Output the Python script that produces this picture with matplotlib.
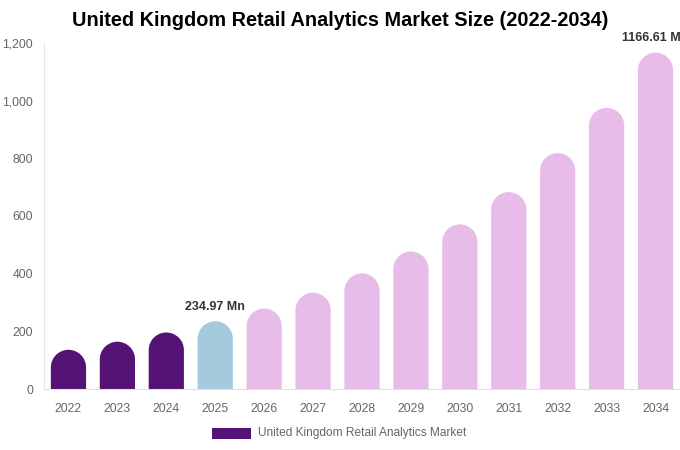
import matplotlib
matplotlib.use("Agg")
import matplotlib.pyplot as plt
from matplotlib.patches import Rectangle, PathPatch
from matplotlib.path import Path
from matplotlib.ticker import FuncFormatter

years = ["2022", "2023", "2024", "2025", "2026", "2027", "2028", "2029", "2030",
         "2031", "2032", "2033", "2034"]
values = [136, 164, 196, 234.97, 279, 334, 401, 477, 571, 683, 818, 975, 1166.61]
colors = ["#541275", "#541275", "#541275", "#A4CADE"] + ["#E8BCE8"] * 9
labels = {3: "234.97 Mn", 12: "1166.61 Mn"}
title = "United Kingdom Retail Analytics Market Size (2022-2034)"
legend_label = "United Kingdom Retail Analytics Market"

plt.rcParams["font.family"] = ["Liberation Sans", "DejaVu Sans"]
W, H = 680, 450
fig = plt.figure(figsize=(W / 100, H / 100), dpi=100)
ax = fig.add_axes([44 / W, (H - 389) / H, (680 - 44) / W, (389 - 43) / H])
ax.set_xlim(-0.5, len(years) - 0.5)
ax.set_ylim(0, 1200)

bw = 0.72
ppx = (ax.get_position().width * W) / (len(years))
ppy = (ax.get_position().height * H) / 1200
r_px = bw * ppx / 2
ry = r_px / ppy
hb = bw / 2

arc = Path.arc(0, 180)
xs = list(range(len(years)))
for x, v, c in zip(xs, values, colors):
    base = v - ry
    verts = [(x - hb, 0), (x + hb, 0)]
    codes = [Path.MOVETO, Path.LINETO]
    for k, (ux, uy) in enumerate(arc.vertices):
        verts.append((x + ux * hb, base + uy * ry))
        codes.append(Path.LINETO if k == 0 else arc.codes[k])
    verts.append((x - hb, 0))
    codes.append(Path.CLOSEPOLY)
    ax.add_patch(PathPatch(Path(verts, codes), facecolor=c, edgecolor="none", lw=0))

for i, t in labels.items():
    ax.annotate(t, (xs[i], values[i]), xytext=(0, 6), textcoords="offset points",
                ha="center", va="bottom", fontsize=9, fontweight="bold", color="#333333",
                annotation_clip=False)

ax.set_xticks(xs)
ax.set_xticklabels(years)
ax.set_yticks([0, 200, 400, 600, 800, 1000, 1200])
ax.yaxis.set_major_formatter(FuncFormatter(lambda v, p: f"{int(v):,}"))
ax.tick_params(axis="both", length=0, labelsize=8.8, colors="#666666")
ax.tick_params(axis="x", pad=10)
ax.tick_params(axis="y", pad=8)
for s in ["top", "right"]:
    ax.spines[s].set_visible(False)
ax.spines["left"].set_color("#e6e6e6")
ax.spines["bottom"].set_color("#e0e0e0")

fig.text(340 / W, 1 - 21 / H, title, ha="center", va="center", fontsize=14.3,
         fontweight="bold", color="#000000")

fig.patches.append(Rectangle((212 / W, 1 - 439 / H), 39 / W, 11 / H,
                             transform=fig.transFigure, facecolor="#541275",
                             edgecolor="none", figure=fig))
fig.text(258 / W, 1 - 433 / H, legend_label, ha="left", va="center", fontsize=8.6,
         color="#666666")

fig.savefig("out.png", dpi=100)
